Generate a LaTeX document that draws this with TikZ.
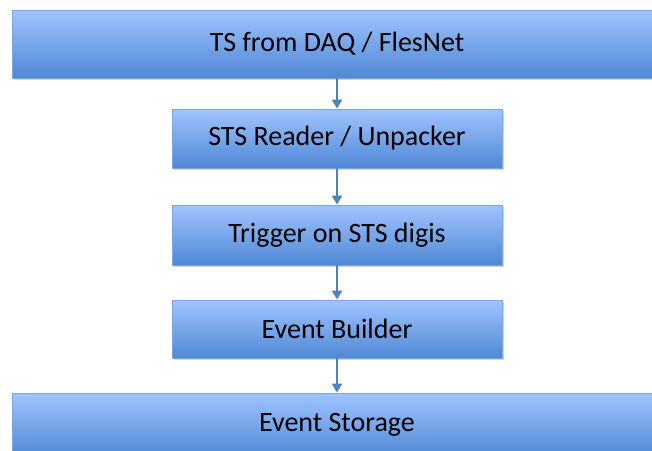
\documentclass[tikz,border=0pt]{standalone}
\usepackage{fontspec}
\setmainfont{Carlito}
\usetikzlibrary{arrows.meta,shadows,positioning}
\definecolor{boxtop}{HTML}{A0C4FF}
\definecolor{boxbot}{HTML}{4F88D4}
\definecolor{boxline}{HTML}{7FA6DE}
\definecolor{arrowblue}{HTML}{4F82C4}

\begin{document}
\begin{tikzpicture}[x=1pt,y=1pt,
   stage/.style={draw=boxline,line width=0.8pt,top color=boxtop,bottom color=boxbot,
      font=\fontsize{28}{32}\selectfont,minimum width=330pt,minimum height=60pt,inner sep=0pt,
      drop shadow={shadow xshift=2pt,shadow yshift=-2pt,opacity=0.35}},
   wide/.style={stage,minimum width=650pt,minimum height=68pt},
   flow/.style={draw=arrowblue,line width=2.6pt,-{Triangle[length=9pt,width=10pt]}}]

   \useasboundingbox (0,0) rectangle (652,-450);
   \clip (0,0) rectangle (652,-450);

   \node[wide] (daq) at (337,-44) {TS from DAQ / FlesNet};
   \node[stage,minimum height=59pt] (reader) at (337,-138.5) {STS Reader / Unpacker};
   \node[stage] (trigger) at (337,-235) {Trigger on STS digis};
   \node[stage,minimum height=58pt] (builder) at (337,-329) {Event Builder};
   \node[wide,minimum height=64pt] (storage) at (337,-425) {Event Storage};

   \draw[flow] (daq) -- (reader);
   \draw[flow] (reader) -- (trigger);
   \draw[flow] (trigger) -- (builder);
   \draw[flow] (builder) -- (storage);

\end{tikzpicture}
\end{document}
